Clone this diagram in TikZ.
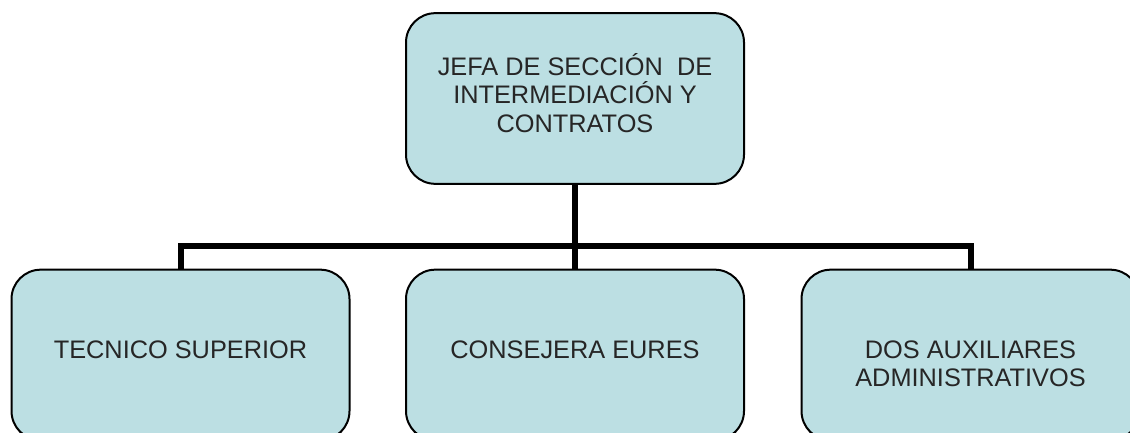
\documentclass[tikz,border=0pt]{standalone}
\usepackage{fontspec}
\setmainfont{Liberation Sans}
\definecolor{boxfill}{RGB}{188,223,227}
\definecolor{txt}{RGB}{38,38,38}
\begin{document}
\begin{tikzpicture}[x=0.75pt,y=-0.75pt,
  orgbox/.style={draw=black,line width=1.5pt,fill=boxfill,rounded corners=22pt,
    minimum width=253.5pt,minimum height=128pt,inner sep=0pt,outer sep=0pt,
    align=center,text=txt,font=\fontsize{19pt}{21.2pt}\selectfont},
  link/.style={line width=4.5pt,draw=black}]
\useasboundingbox (0,0) rectangle (1130,432);
\node[orgbox,text height=56pt,text depth=5.6pt] (top) at (575,98.5) {JEFA DE SECCIÓN~ DE\\INTERMEDIACIÓN Y\\CONTRATOS};
\node[orgbox,text height=13.6pt,text depth=9pt] (b1) at (180.5,355) {TECNICO SUPERIOR};
\node[orgbox,text height=13.6pt,text depth=9pt] (b2) at (575,355) {CONSEJERA EURES};
\node[orgbox,text height=47.4pt,text depth=0pt] (b3) at (970.5,355) {DOS AUXILIARES\\ADMINISTRATIVOS};
\coordinate (j) at (575,246);
\draw[link] (top.south) -- (j);
\draw[link] (j) -- (b2.north);
\draw[link] (b1.north) |- (j) -| (b3.north);
\end{tikzpicture}
\end{document}
